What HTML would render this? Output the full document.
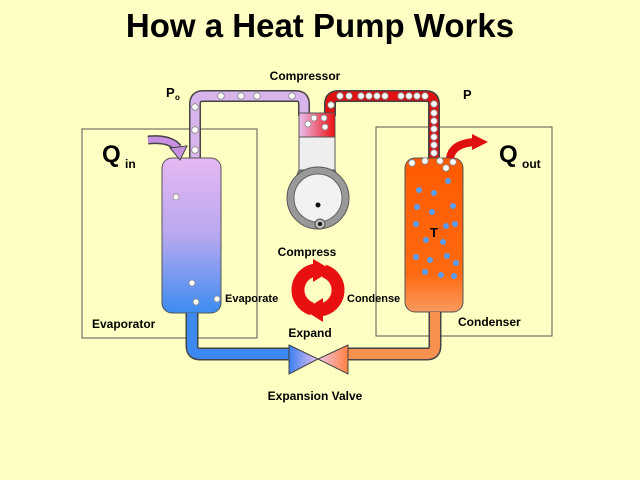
<!DOCTYPE html>
<html><head><meta charset="utf-8"><style>
html,body{margin:0;padding:0;background:#ffffc4;}
svg{display:block;font-family:"Liberation Sans",Arial,sans-serif;}
</style></head><body>
<svg width="640" height="480" viewBox="0 0 640 480">
<defs>
<linearGradient id="evap" x1="0" y1="0" x2="0" y2="1">
<stop offset="0" stop-color="#e6b8f2"/><stop offset="0.5" stop-color="#b8a8f0"/><stop offset="1" stop-color="#3c8cf0"/></linearGradient>
<linearGradient id="cond" x1="0" y1="0" x2="0" y2="1">
<stop offset="0" stop-color="#ff5a00"/><stop offset="0.75" stop-color="#ff6a10"/><stop offset="1" stop-color="#f89a60"/></linearGradient>
<linearGradient id="cyl" x1="0" y1="0" x2="1" y2="0">
<stop offset="0" stop-color="#e8c0f0"/><stop offset="1" stop-color="#ee1010"/></linearGradient>
<linearGradient id="vl" x1="0" y1="0" x2="1" y2="0">
<stop offset="0" stop-color="#3a80f0"/><stop offset="1" stop-color="#e8c0f0"/></linearGradient>
<linearGradient id="vr" x1="0" y1="0" x2="1" y2="0">
<stop offset="0" stop-color="#f0c8e8"/><stop offset="1" stop-color="#ff8040"/></linearGradient>
</defs>
<rect width="640" height="480" fill="#ffffc4"/>
<text x="320" y="37" text-anchor="middle" font-size="33" font-weight="bold">How a Heat Pump Works</text>
<rect x="82" y="129" width="175" height="209" fill="none" stroke="#555" stroke-width="1"/>
<rect x="376" y="127" width="176" height="209" fill="none" stroke="#555" stroke-width="1"/>
<path d="M195 160 V104 Q195 96 203 96 H296 Q304 96 304 104 V116" fill="none" stroke="#444" stroke-width="12"/>
<path d="M195 160 V104 Q195 96 203 96 H296 Q304 96 304 104 V116" fill="none" stroke="#d8b4ec" stroke-width="9"/>
<path d="M330 116 V104 Q330 96 338 96 H426 Q434 96 434 104 V160" fill="none" stroke="#444" stroke-width="12"/>
<path d="M330 116 V104 Q330 96 338 96 H426 Q434 96 434 104 V160" fill="none" stroke="#e01010" stroke-width="9"/>
<g fill="#fff" stroke="#888" stroke-width="0.8">
<circle cx="221" cy="96" r="3.3"/><circle cx="241" cy="96" r="3.3"/><circle cx="257" cy="96" r="3.3"/><circle cx="292" cy="96" r="3.3"/>
<circle cx="195" cy="107" r="3.3"/><circle cx="195" cy="130" r="3.3"/><circle cx="195" cy="150" r="3.3"/>
<circle cx="340" cy="96" r="3.3"/><circle cx="349" cy="96" r="3.3"/><circle cx="361" cy="96" r="3.3"/><circle cx="369" cy="96" r="3.3"/><circle cx="377" cy="96" r="3.3"/><circle cx="385" cy="96" r="3.3"/><circle cx="401" cy="96" r="3.3"/><circle cx="409" cy="96" r="3.3"/><circle cx="417" cy="96" r="3.3"/><circle cx="425" cy="96" r="3.3"/>
<circle cx="331" cy="105" r="3.3"/>
<circle cx="434" cy="104" r="3.3"/><circle cx="434" cy="113" r="3.3"/><circle cx="434" cy="121" r="3.3"/><circle cx="434" cy="129" r="3.3"/><circle cx="434" cy="137" r="3.3"/><circle cx="434" cy="145" r="3.3"/><circle cx="434" cy="153" r="3.3"/>
</g>
<rect x="299" y="113" width="36" height="24" fill="url(#cyl)" stroke="#555"/>
<rect x="299" y="137" width="36" height="33" fill="#eee" stroke="#555"/>
<polygon points="299,170 335,170 340,182 294,182" fill="#888" stroke="#555"/>
<circle cx="318" cy="198" r="31" fill="#999" stroke="#555"/>
<circle cx="318" cy="198" r="24" fill="#f2f2f2" stroke="#666"/>
<circle cx="318" cy="205" r="2.5" fill="#111"/><circle cx="320" cy="224" r="5" fill="#bbb" stroke="#555"/><circle cx="320" cy="224" r="2" fill="#111"/>
<g fill="#fff" stroke="#888" stroke-width="0.8"><circle cx="314" cy="118" r="3"/><circle cx="324" cy="118" r="3"/><circle cx="325" cy="127" r="3"/><circle cx="308" cy="124" r="3"/></g>
<rect x="162" y="158" width="59" height="155" rx="10" fill="url(#evap)" stroke="#555"/>
<g fill="#fff" stroke="#888" stroke-width="0.8"><circle cx="176" cy="197" r="3"/><circle cx="192" cy="283" r="3"/><circle cx="196" cy="302" r="3"/><circle cx="217" cy="299" r="3"/></g>
<rect x="405" y="158" width="58" height="154" rx="10" fill="url(#cond)" stroke="#555"/>
<g fill="#fff" stroke="#888" stroke-width="0.8"><circle cx="412" cy="163" r="3.3"/><circle cx="425" cy="161" r="3.3"/><circle cx="440" cy="161" r="3.3"/><circle cx="453" cy="162" r="3.3"/><circle cx="446" cy="168" r="3.3"/></g>
<g fill="#5a9cf0">
<circle cx="419" cy="190" r="3"/><circle cx="434" cy="193" r="3"/><circle cx="448" cy="181" r="3"/><circle cx="417" cy="207" r="3"/><circle cx="432" cy="212" r="3"/><circle cx="453" cy="206" r="3"/><circle cx="416" cy="224" r="3"/><circle cx="446" cy="226" r="3"/><circle cx="455" cy="224" r="3"/><circle cx="426" cy="240" r="3"/><circle cx="443" cy="242" r="3"/><circle cx="416" cy="257" r="3"/><circle cx="430" cy="260" r="3"/><circle cx="447" cy="256" r="3"/><circle cx="456" cy="263" r="3"/><circle cx="425" cy="272" r="3"/><circle cx="441" cy="275" r="3"/><circle cx="454" cy="276" r="3"/></g>
<path d="M192 313 V346 Q192 354 200 354 H292" fill="none" stroke="#444" stroke-width="13"/>
<path d="M192 313 V346 Q192 354 200 354 H292" fill="none" stroke="#3a88f0" stroke-width="10"/>
<path d="M435 312 V346 Q435 354 427 354 H346" fill="none" stroke="#444" stroke-width="13"/>
<path d="M435 312 V346 Q435 354 427 354 H346" fill="none" stroke="#f89050" stroke-width="10"/>
<polygon points="289,345 318,359 289,374" fill="url(#vl)" stroke="#444"/>
<polygon points="348,345 318,359 348,374" fill="url(#vr)" stroke="#444"/>
<!-- recycle arrows -->
<g stroke="#e81010" stroke-width="13" fill="none">
<path d="M316 270 A20 20 0 0 0 312 309"/>
<path d="M320 310 A20 20 0 0 0 324 271"/>
</g>
<g fill="#e81010">
<polygon points="313,259 332,270 313,282"/>
<polygon points="323,298 304,310 323,322"/>
</g>
<path d="M148 140 Q170 138 178 148" fill="none" stroke="#444" stroke-width="9"/>
<path d="M148 140 Q170 138 178 148" fill="none" stroke="#c890e0" stroke-width="6"/>
<polygon points="170,148 187,146 180,160" fill="#c890e0" stroke="#444"/>
<path d="M450 158 Q452 144 474 142" fill="none" stroke="#e01010" stroke-width="8"/>
<polygon points="472,134 488,142 472,150" fill="#e01010"/>
<g font-weight="bold" font-size="12" fill="#000">
<text x="305" y="80" text-anchor="middle">Compressor</text>
<text x="166" y="97" font-size="13">P</text><text x="175" y="100" font-size="8">o</text>
<text x="463" y="99" font-size="13">P</text>
<text x="430" y="237" font-size="13">T</text>
<text x="307" y="256" text-anchor="middle">Compress</text>
<text x="225" y="302" font-size="11">Evaporate</text>
<text x="347" y="302" font-size="11">Condense</text>
<text x="310" y="337" text-anchor="middle">Expand</text>
<text x="92" y="328">Evaporator</text>
<text x="458" y="326">Condenser</text>
<text x="315" y="400" text-anchor="middle">Expansion Valve</text>
<text x="102" y="162" font-size="24">Q</text><text x="125" y="168" font-size="12">in</text>
<text x="499" y="162" font-size="24">Q</text><text x="522" y="168" font-size="12">out</text>
</g>
</svg>
</body></html>
